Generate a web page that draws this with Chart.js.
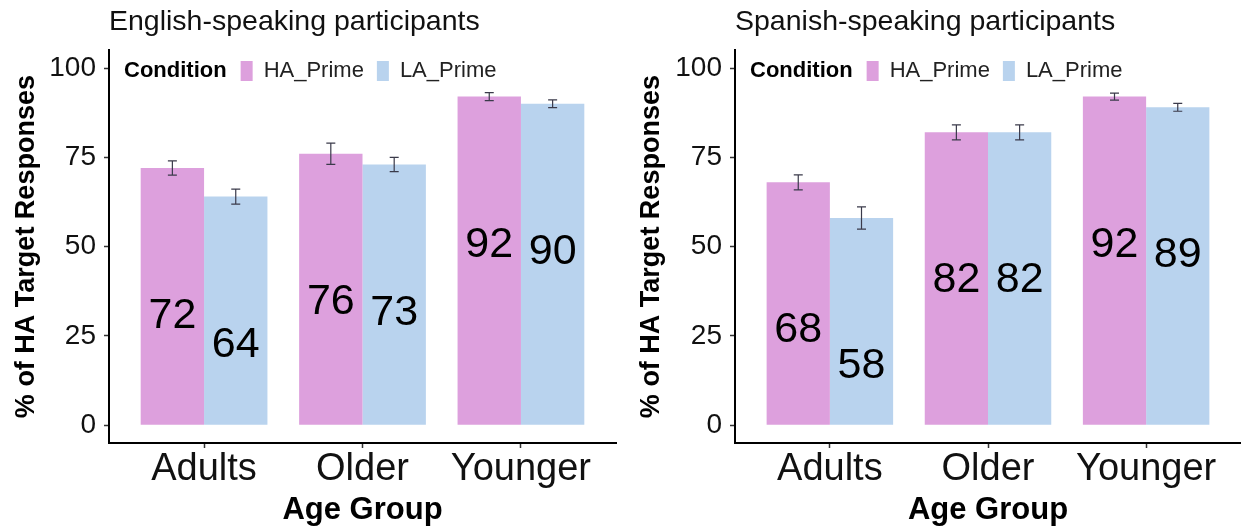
<!DOCTYPE html>
<html>
<head>
<meta charset="utf-8">
<script src="https://cdn.jsdelivr.net/npm/chart.js@4/dist/chart.umd.min.js"></script>
<style>
  body { margin: 0; background: #fff; }
  .painel { position: absolute; top: 0; }
</style>
</head>
<body>
<div class="painel" style="left:0"><canvas id="chartEng" width="625" height="531"></canvas></div>
<div class="painel" style="left:625px"><canvas id="chartSpa" width="616" height="531"></canvas></div>
<script>
// categorias e valores
const ageGroups = ['Adults', 'Older', 'Younger'];
const conditions = ['HA_Prime', 'LA_Prime'];
const yTicks = [0, 25, 50, 75, 100];

const engHA = [72, 76, 92];
const engLA = [64, 73, 90];
const engHAerr = [2, 3, 1.1];
const engLAerr = [2.1, 2, 1.1];

const spaHA = [68, 82, 92];
const spaLA = [58, 82, 89];
const spaHAerr = [2.1, 2.1, 1];
const spaLAerr = [3.1, 2.1, 1.1];

const corHA = '#DDA0DD';
const corLA = '#B9D3EE';
const fonte = "'Liberation Sans', Arial, sans-serif";
const LABEL_DROP = 41.5; // rótulo desenhado abaixo do topo da barra (em unidades do eixo)

// plugin: barras de erro, rótulos dos valores e legenda dentro da área
const extras = {
    id: 'extras',
    afterDatasetsDraw(chart, args, opts) {
        const ctx = chart.ctx;
        const y = chart.scales.y;
        ctx.save();
        chart.data.datasets.forEach(function (ds, i) {
            const meta = chart.getDatasetMeta(i);
            meta.data.forEach(function (bar, j) {
                const v = ds.data[j].y;
                const e = opts.erros[i][j];
                const y1 = y.getPixelForValue(v + e);
                const y2 = y.getPixelForValue(v - e);
                ctx.strokeStyle = '#3a3a4a';
                ctx.lineWidth = 1.2;
                ctx.beginPath();
                ctx.moveTo(bar.x, y1); ctx.lineTo(bar.x, y2);
                ctx.moveTo(bar.x - 4.5, y1); ctx.lineTo(bar.x + 4.5, y1);
                ctx.moveTo(bar.x - 4.5, y2); ctx.lineTo(bar.x + 4.5, y2);
                ctx.stroke();

                ctx.fillStyle = '#000';
                ctx.font = '43px ' + fonte;
                ctx.textAlign = 'center';
                ctx.textBaseline = 'middle';
                ctx.fillText(String(v), bar.x, y.getPixelForValue(v - LABEL_DROP));
            });
        });

        // legenda
        const area = chart.chartArea;
        let x = area.left + 15;
        const cy = 71;
        ctx.textAlign = 'left';
        ctx.textBaseline = 'middle';
        ctx.fillStyle = '#000';
        ctx.font = 'bold 22px ' + fonte;
        ctx.fillText('Condition', x, cy);
        x += ctx.measureText('Condition').width + 14;
        ctx.font = '22px ' + fonte;
        chart.data.datasets.forEach(function (ds) {
            ctx.fillStyle = ds.backgroundColor;
            ctx.fillRect(x, cy - 10, 12, 20);
            x += 12 + 11;
            ctx.fillStyle = '#222';
            ctx.fillText(ds.label, x, cy);
            x += ctx.measureText(ds.label).width + 13;
        });
        ctx.restore();
    }
};

function drawChart(canvasId, titulo, ha, la, haErr, laErr, larguraY, padDireita) {
    const ctx = document.getElementById(canvasId).getContext('2d');
    return new Chart(ctx, {
        type: 'bar',
        data: {
            datasets: [
                {
                    label: conditions[0],
                    data: ha.map(function (v, i) { return { x: i, y: v }; }),
                    backgroundColor: corHA,
                    borderWidth: 0
                },
                {
                    label: conditions[1],
                    data: la.map(function (v, i) { return { x: i, y: v }; }),
                    backgroundColor: corLA,
                    borderWidth: 0
                }
            ]
        },
        options: {
            responsive: false,
            animation: false,
            devicePixelRatio: 1,
            categoryPercentage: 0.8,
            barPercentage: 1,
            layout: { padding: { left: 0, right: padDireita, top: 0, bottom: 0 } },
            plugins: {
                legend: { display: false },
                tooltip: { enabled: false },
                title: {
                    display: true,
                    text: titulo,
                    align: 'start',
                    fullSize: false,
                    color: '#111',
                    font: { family: fonte, size: 28.5, weight: 'normal' },
                    padding: { top: 5, bottom: 11 }
                },
                extras: { erros: [haErr, laErr] }
            },
            scales: {
                x: {
                    type: 'linear',
                    min: -0.6,
                    max: 2.6,
                    offset: false,
                    afterBuildTicks: function (s) {
                        s.ticks = ageGroups.map(function (g, i) { return { value: i }; });
                    },
                    afterFit: function (s) { s.height = 88; },
                    ticks: {
                        callback: function (v) { return ageGroups[v]; },
                        color: '#111',
                        font: { family: fonte, size: 38, lineHeight: 1 },
                        padding: 3,
                        maxRotation: 0,
                        autoSkip: false
                    },
                    grid: {
                        offset: false,
                        drawOnChartArea: false,
                        tickLength: 5,
                        tickColor: '#333',
                        tickWidth: 1.5
                    },
                    border: { display: true, color: '#000', width: 2 },
                    title: {
                        display: true,
                        text: 'Age Group',
                        color: '#000',
                        font: { family: fonte, size: 31, weight: 'bold' },
                        padding: { top: 0, bottom: 2 }
                    }
                },
                y: {
                    min: -5,
                    max: 105,
                    afterBuildTicks: function (s) {
                        s.ticks = yTicks.map(function (v) { return { value: v }; });
                    },
                    afterFit: function (s) { s.width = larguraY; },
                    ticks: {
                        color: '#111',
                        font: { family: fonte, size: 28 },
                        padding: 8
                    },
                    grid: {
                        drawOnChartArea: false,
                        tickLength: 5,
                        tickColor: '#333',
                        tickWidth: 1.5
                    },
                    border: { display: true, color: '#000', width: 2 },
                    title: {
                        display: true,
                        text: '% of HA Target Responses',
                        color: '#000',
                        font: { family: fonte, size: 27, weight: 'bold' },
                        padding: { top: 10, bottom: 0 }
                    }
                }
            }
        },
        plugins: [extras]
    });
}

drawChart('chartEng', 'English-speaking participants', engHA, engLA, engHAerr, engLAerr, 109, 9);
drawChart('chartSpa', 'Spanish-speaking participants', spaHA, spaLA, spaHAerr, spaLAerr, 110, 0);
</script>
</body>
</html>
